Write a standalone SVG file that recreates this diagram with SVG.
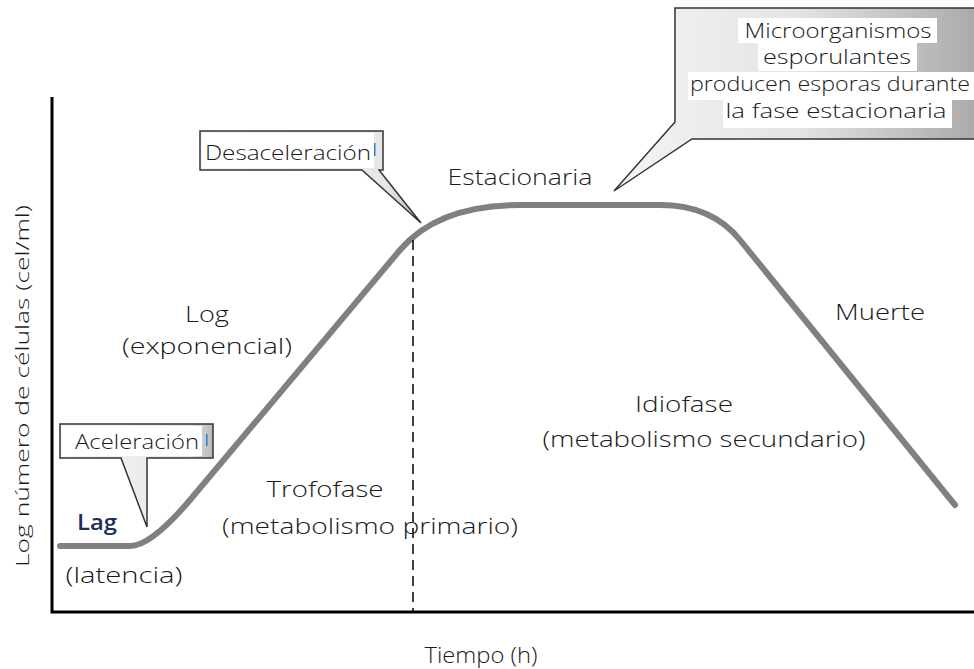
<svg xmlns="http://www.w3.org/2000/svg" width="974" height="669" viewBox="0 0 974 669">
<defs>
<linearGradient id="gBig" x1="0" y1="0" x2="1" y2="0">
<stop offset="0" stop-color="#f4f4f4"/>
<stop offset="0.5" stop-color="#e4e4e4"/>
<stop offset="1" stop-color="#a9a9a9"/>
</linearGradient>
<linearGradient id="gSmall" x1="0" y1="0" x2="1" y2="0">
<stop offset="0" stop-color="#f6f6f6"/>
<stop offset="0.85" stop-color="#e6e6e6"/>
<stop offset="1" stop-color="#b8b8b8"/>
</linearGradient>
<style>
text{font-family:"Open Sans","Noto Sans","DejaVu Sans",sans-serif;font-size:22px;font-weight:300;fill:#1a1a1a;text-anchor:middle}
.c{font-size:20px}
.call{stroke:#333;stroke-width:1.5;stroke-linejoin:miter}
.axis{stroke:#000;stroke-width:3;fill:none}
</style>
</defs>
<rect width="974" height="669" fill="#fff"/>
<g id="axes">
<path class="axis" d="M52,97 L52,612 L974,612"/>
</g>
<g id="connectors">
<path id="curve" d="M60,546 L130,546 Q151,546 190,500 L400,250 Q438,205 520,205 L660,205 Q712,205 740,240 L955,505" fill="none" stroke="#808080" stroke-width="6" stroke-linecap="round"/>
<line id="divider" x1="413" y1="240" x2="413" y2="612" stroke="#000" stroke-width="1.5" stroke-dasharray="10,6"/>
</g>
<g id="labels">
<text x="520" y="185" textLength="145" lengthAdjust="spacingAndGlyphs">Estacionaria</text>
<text x="207" y="322" textLength="44" lengthAdjust="spacingAndGlyphs">Log</text>
<text x="207" y="354" textLength="170" lengthAdjust="spacingAndGlyphs">(exponencial)</text>
<text x="325" y="497" textLength="117" lengthAdjust="spacingAndGlyphs">Trofofase</text>
<text x="370" y="534" textLength="296" lengthAdjust="spacingAndGlyphs">(metabolismo primario)</text>
<text x="684" y="412" textLength="98" lengthAdjust="spacingAndGlyphs">Idiofase</text>
<text x="704" y="447" textLength="323" lengthAdjust="spacingAndGlyphs">(metabolismo secundario)</text>
<text x="880" y="320" textLength="90" lengthAdjust="spacingAndGlyphs">Muerte</text>
<text x="97" y="530" style="fill:#1f2d5c;font-weight:600" textLength="40" lengthAdjust="spacingAndGlyphs">Lag</text>
<text x="124" y="583" textLength="117" lengthAdjust="spacingAndGlyphs">(latencia)</text>
<text x="481" y="663" textLength="113" lengthAdjust="spacingAndGlyphs">Tiempo (h)</text>
<text x="0" y="0" transform="translate(29,386) rotate(-90)" style="font-size:19px" textLength="362" lengthAdjust="spacingAndGlyphs">Log número de células (cel/ml)</text>
</g>
<g id="callout-aceleracion">
<path class="call" d="M60,424 L213,424 L213,458 L147,458 L147,527 L121,458 L60,458 Z" fill="url(#gSmall)"/>
<rect x="62" y="426" width="140" height="30" fill="#fff"/>
<text class="c" x="137" y="449" textLength="124" lengthAdjust="spacingAndGlyphs">Aceleración</text>
<rect x="206" y="434" width="1.5" height="12" fill="#2a7fd4"/>
</g>
<g id="callout-desaceleracion">
<path class="call" d="M200,131 L383,131 L383,170 L379,170 L421,223 L362,170 L200,170 Z" fill="url(#gSmall)"/>
<rect x="202" y="133" width="172" height="35" fill="#fff"/>
<text class="c" x="288" y="160" textLength="166" lengthAdjust="spacingAndGlyphs">Desaceleración</text>
<rect x="374" y="143" width="1.5" height="13" fill="#2a7fd4"/>
</g>
<g id="callout-esporas">
<path class="call" d="M675,8 L980,8 L980,139 L692,139 L614,191 L675,122 Z" fill="url(#gBig)"/>
<rect x="738" y="18" width="199" height="25" fill="#fff"/>
<rect x="758" y="43" width="159" height="28" fill="#fff"/>
<rect x="688" y="72" width="290" height="28" fill="#fff"/>
<rect x="723" y="100" width="229" height="28" fill="#fff"/>
<text class="c" x="838" y="38" textLength="187" lengthAdjust="spacingAndGlyphs">Microorganismos</text>
<text class="c" x="837" y="64" textLength="148" lengthAdjust="spacingAndGlyphs">esporulantes</text>
<text class="c" x="830" y="91" textLength="280" lengthAdjust="spacingAndGlyphs">producen esporas durante</text>
<text class="c" x="836" y="118" textLength="221" lengthAdjust="spacingAndGlyphs">la fase estacionaria</text>
</g>
</svg>
